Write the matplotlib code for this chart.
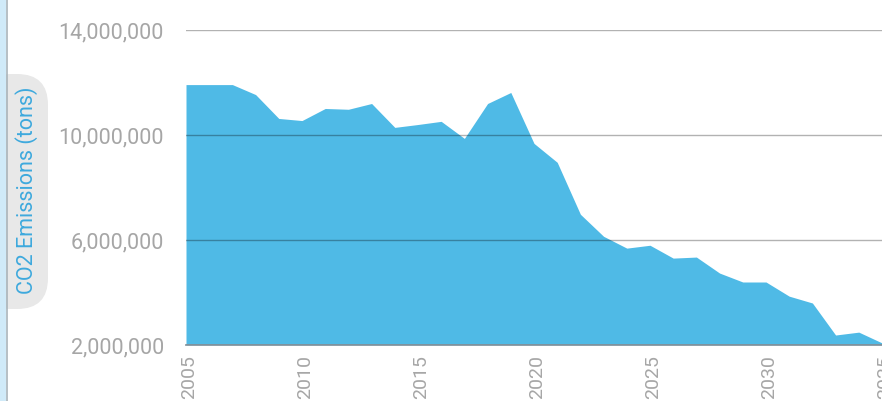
import matplotlib.pyplot as plt
from matplotlib.patches import FancyBboxPatch, Rectangle
from matplotlib.lines import Line2D
from matplotlib.ticker import FuncFormatter
from matplotlib.transforms import ScaledTranslation

years = list(range(2005, 2036))
emissions = [11.92, 11.92, 11.92, 11.54, 10.63, 10.55, 11.01, 10.98, 11.20, 10.29,
             10.40, 10.52, 9.87, 11.20, 11.62, 9.68, 8.96, 6.98, 6.14, 5.69,
             5.80, 5.31, 5.35, 4.74, 4.40, 4.40, 3.86, 3.60, 2.38, 2.49, 2.08]
emissions = [v * 1e6 for v in emissions]
y_ticks = [2e6, 6e6, 10e6, 14e6]
x_ticks = [2005, 2010, 2015, 2020, 2025, 2030, 2035]

plt.rcParams['font.family'] = ['Roboto', 'DejaVu Sans']
grey = '#a6a6a6'

fig = plt.figure(figsize=(8.82, 4.01), dpi=100)
ax = fig.add_axes([186 / 882, 1 - 345 / 401, 1 - 186 / 882, (345 - 30) / 401])

ax.fill_between(years, emissions, 2e6, color='#4fbae6', linewidth=0, zorder=1)

ax.set_xlim(2005, 2035)
ax.set_ylim(2e6, 14e6)
ax.set_yticks(y_ticks)
ax.set_xticks(x_ticks)
ax.yaxis.set_major_formatter(FuncFormatter(lambda v, p: f'{int(v):,}'))
ax.tick_params(axis='y', length=0, pad=16, labelsize=15.5, labelcolor=grey)
ax.tick_params(axis='x', length=0, pad=7.5, labelsize=14, labelcolor=grey,
               labelrotation=90)
shift = ScaledTranslation(3 / 100, 0, fig.dpi_scale_trans)
for lab in ax.get_xticklabels():
    lab.set_verticalalignment('top')
    lab.set_transform(lab.get_transform() + shift)

ax.grid(axis='y', color='black', alpha=0.3, linewidth=1, zorder=2)
ax.grid(axis='x', visible=False)
ax.set_axisbelow(False)
for s in ['top', 'right', 'left']:
    ax.spines[s].set_visible(False)
ax.spines['bottom'].set_color('#8c9aa3')
ax.spines['bottom'].set_linewidth(1.3)

# y label in a rounded grey tab at the left edge
box = FancyBboxPatch((-20 / 882, 1 - 309 / 401), 68 / 882, 235 / 401,
                     boxstyle='round,pad=0,rounding_size=0.035',
                     transform=fig.transFigure, facecolor='#e8e8e8',
                     edgecolor='none', mutation_aspect=882 / 401)
fig.patches.append(box)
fig.patches.append(Rectangle((0, 0), 6 / 882, 1, transform=fig.transFigure,
                             facecolor='#d0eaf8', edgecolor='none', zorder=3))
fig.lines.append(Line2D([6.5 / 882, 6.5 / 882], [0, 1], transform=fig.transFigure,
                        color='#a9b4ba', linewidth=1.2))
fig.text(27 / 882, 1 - 190 / 401, 'CO2 Emissions (tons)', rotation=90,
         ha='center', va='center', fontsize=15.5, color='#3ea9dd')

fig.savefig('out.png', dpi=100)
